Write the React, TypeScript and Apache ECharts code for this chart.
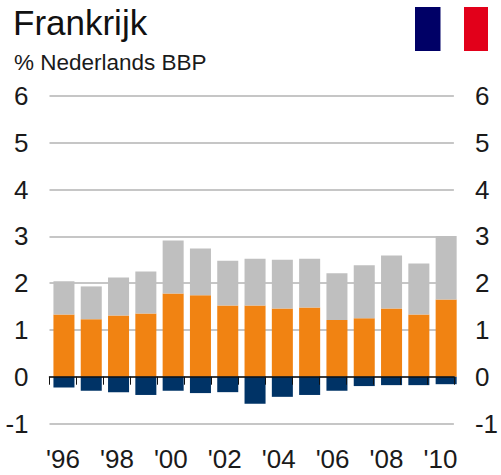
import React, { useEffect, useRef } from "react";
import * as echarts from "echarts";

const years = ["'96","'97","'98","'99","'00","'01","'02","'03","'04","'05","'06","'07","'08","'09","'10"];
const orange = [1.33,1.23,1.31,1.35,1.78,1.74,1.52,1.52,1.46,1.48,1.21,1.25,1.46,1.33,1.65];
const gray = [0.71,0.70,0.81,0.90,1.13,1.00,0.96,1.00,1.04,1.04,1.00,1.13,1.13,1.09,1.36];
const navy = [-0.23,-0.30,-0.33,-0.39,-0.30,-0.35,-0.33,-0.58,-0.43,-0.39,-0.30,-0.20,-0.18,-0.18,-0.16];
const FONT = "Liberation Sans";

export default function App() {
  const ref = useRef<HTMLDivElement>(null);
  useEffect(() => {
    const chart = echarts.init(ref.current!, undefined, { renderer: "svg" });
    const bar = (name: string, data: number[], color: string) => ({
      name, type: "bar", stack: "a", data, barCategoryGap: "23%",
      xAxisIndex: 2, yAxisIndex: 2,
      itemStyle: { color }, z: 2,
    });
    const yCommon = {
      type: "value", min: -1, max: 6, interval: 1,
      axisLine: { show: false }, axisTick: { show: false },
      axisLabel: { color: "#1a1a1a", fontSize: 26, fontFamily: FONT, margin: 21 },
    };
    chart.setOption({
      animation: false,
      backgroundColor: "#fff",
      title: [
        { text: "Frankrijk", left: 8, top: 0, textStyle: { color: "#111", fontSize: 35, fontWeight: "normal", fontFamily: FONT } },
        { text: "% Nederlands BBP", left: 9, top: 46, textStyle: { color: "#1a1a1a", fontSize: 22.5, fontWeight: "normal", fontFamily: FONT } },
      ],
      grid: [
        { left: 49.5, right: 42, top: 96, bottom: 51.5 },
        { left: 50.3, right: 41.2, top: 96, bottom: 51.5 },
      ],
      xAxis: [
        {
          type: "category", data: years, position: "bottom", gridIndex: 0,
          axisLine: { onZero: true, lineStyle: { color: "#111", width: 1.5 } },
          axisTick: { show: true, length: 8, interval: 0, alignWithLabel: false, lineStyle: { color: "#111", width: 1 } },
          axisLabel: { show: false }, splitLine: { show: false }, z: 5,
        },
        {
          type: "category", data: years, position: "bottom", gridIndex: 0,
          axisLine: { show: false }, axisTick: { show: false }, splitLine: { show: false },
          axisLabel: { show: true, interval: 1, color: "#1a1a1a", fontSize: 26, fontFamily: FONT, margin: 22 },
        },
        { type: "category", data: years, gridIndex: 1, show: false },
      ],
      yAxis: [
        { ...yCommon, position: "left", gridIndex: 0, splitLine: { show: true, lineStyle: { color: "#c6c6c6", width: 2 } } },
        { ...yCommon, position: "right", gridIndex: 0, splitLine: { show: false } },
        { type: "value", min: -1, max: 6, interval: 1, gridIndex: 1, show: false, splitLine: { show: false } },
      ],
      graphic: [
        { type: "rect", shape: { x: 415, y: 7, width: 25.5, height: 44 }, style: { fill: "#000066" } },
        { type: "rect", shape: { x: 464, y: 7, width: 24, height: 44 }, style: { fill: "#e2001a" } },
      ],
      series: [
        bar("Oranje", orange, "#f18312"),
        bar("Grijs", gray, "#bfbfbf"),
        bar("Blauw", navy, "#003366"),
      ],
    });
    return () => chart.dispose();
  }, []);
  return <div ref={ref} style={{ position: "fixed", left: 0, top: 0, width: 501, height: 475 }} />;
}
